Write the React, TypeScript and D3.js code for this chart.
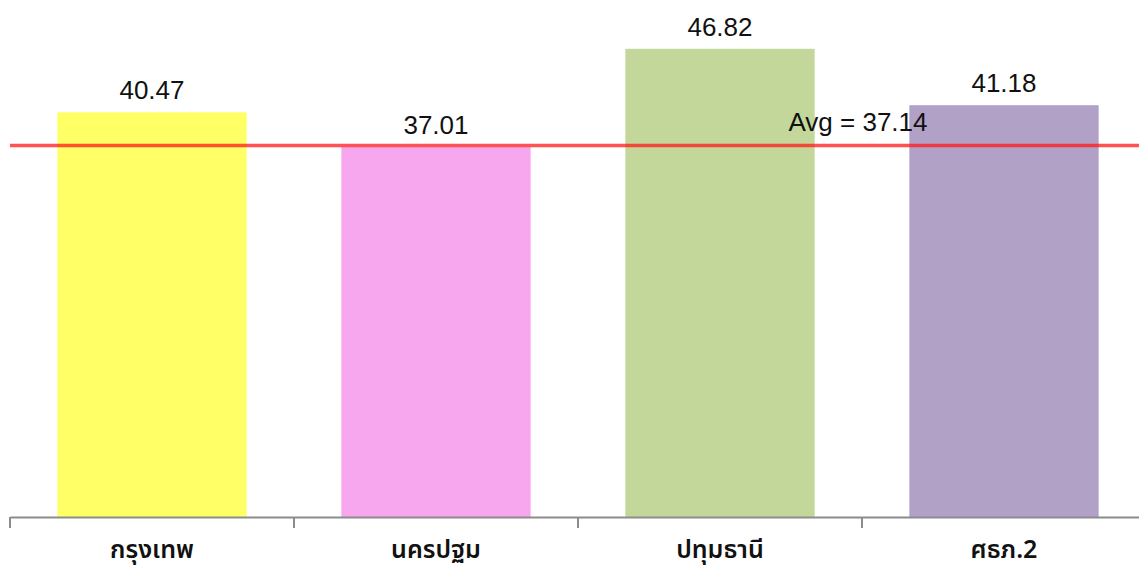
import { useRef, useEffect } from "react";
import * as d3 from "d3";

const categories = ["กรุงเทพ", "นครปฐม", "ปทุมธานี", "ศธภ.2"];
const values = [40.47, 37.01, 46.82, 41.18];
const barColors = ["#FFFF66", "#F6A7EE", "#C4D79B", "#B2A1C7"];
const avgValue = 37.14;
const avgLabel = "Avg = 37.14";

export default function App() {
    const svgRef = useRef<SVGSVGElement | null>(null);
    const width = 1139;
    const height = 569;

    useEffect(() => {
        if (!svgRef.current) return;
        const svg = d3.select(svgRef.current);
        svg.selectAll("*").remove();

        const margin = { top: 17, bottom: 52, left: 10 };
        const bandW = 284;

        const x = d3
            .scaleBand()
            .domain(categories)
            .range([margin.left, margin.left + bandW * categories.length])
            .paddingInner(0)
            .paddingOuter(0);

        const y = d3
            .scaleLinear()
            .domain([0, 50])
            .range([height - margin.bottom, margin.top]);

        const data = categories.map((c, i) => ({ name: c, value: values[i], color: barColors[i] }));
        const barW = x.bandwidth() * (2 / 3);

        // bars
        svg
            .append("g")
            .selectAll("rect")
            .data(data)
            .enter()
            .append("rect")
            .attr("x", d => x(d.name)! + (x.bandwidth() - barW) / 2)
            .attr("y", d => y(d.value))
            .attr("width", barW)
            .attr("height", d => y(0) - y(d.value))
            .attr("fill", d => d.color);

        // value labels
        svg
            .append("g")
            .selectAll("text")
            .data(data)
            .enter()
            .append("text")
            .attr("x", d => x(d.name)! + x.bandwidth() / 2)
            .attr("y", d => y(d.value) - 13)
            .attr("text-anchor", "middle")
            .attr("font-family", "'Liberation Sans', Arial, sans-serif")
            .attr("font-size", 26)
            .attr("fill", "#111")
            .text(d => d.value.toFixed(2));

        // x axis
        const axis = svg
            .append("g")
            .attr("transform", `translate(0,${y(0)})`)
            .call(d3.axisBottom(x).tickSize(0).tickFormat(() => ""));
        axis.select(".domain").attr("stroke", "#8c8c8c").attr("stroke-width", 2);

        const tickPos = categories.map(c => x(c)!).concat([x.range()[1]]);
        axis
            .selectAll("line.sep")
            .data(tickPos)
            .enter()
            .append("line")
            .attr("class", "sep")
            .attr("x1", d => d)
            .attr("x2", d => d)
            .attr("y1", 0)
            .attr("y2", 11)
            .attr("stroke", "#8c8c8c")
            .attr("stroke-width", 2);

        // category labels (kept a little higher so the marks below the line fit)
        svg
            .append("g")
            .selectAll("text")
            .data(categories)
            .enter()
            .append("text")
            .attr("x", d => x(d)! + x.bandwidth() / 2)
            .attr("y", y(0) + 41)
            .attr("text-anchor", "middle")
            .attr("font-family", "Tahoma, 'Noto Sans Thai', 'Noto Sans', 'DejaVu Sans', sans-serif")
            .attr("font-size", 25)
            .attr("font-weight", 600)
            .attr("fill", "#111")
            .text(d => d);

        // average line
        svg
            .append("line")
            .attr("x1", margin.left)
            .attr("x2", width)
            .attr("y1", y(avgValue))
            .attr("y2", y(avgValue))
            .attr("stroke", "#ff1a1a")
            .attr("stroke-opacity", 0.75)
            .attr("stroke-width", 3.5);

        svg
            .append("text")
            .attr("x", x(categories[3])! - 4)
            .attr("y", y(avgValue) - 15)
            .attr("text-anchor", "middle")
            .attr("font-family", "'Liberation Sans', Arial, sans-serif")
            .attr("font-size", 26)
            .attr("fill", "#111")
            .text(avgLabel);
    }, []);

    return (
        <svg
            ref={svgRef}
            width={width}
            height={height}
            style={{ position: "absolute", left: 0, top: 0, background: "#fff" }}
        />
    );
}
